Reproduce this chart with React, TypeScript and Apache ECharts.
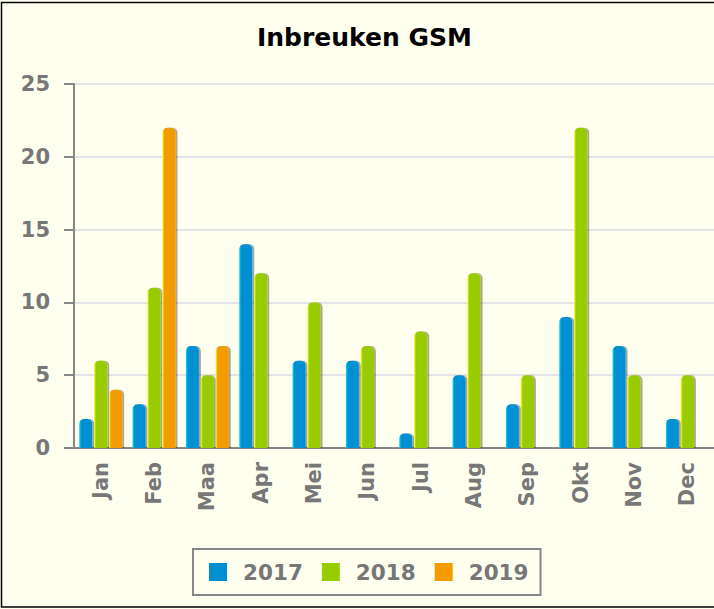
import React, { useEffect, useRef } from "react";
import * as echarts from "echarts";

const categories = ["Jan", "Feb", "Maa", "Apr", "Mei", "Jun", "Jul", "Aug", "Sep", "Okt", "Nov", "Dec"];
const values2017 = [2, 3, 7, 14, 6, 6, 1, 5, 3, 9, 7, 2];
const values2018 = [6, 11, 5, 12, 10, 7, 8, 12, 5, 22, 5, 5];
const values2019: (number | null)[] = [4, 22, 7, null, null, null, null, null, null, null, null, null];
const seriesNames = ["2017", "2018", "2019"];
const seriesColors = ["#0090d2", "#99cc00", "#f39c00"];
const highlightColors = ["#00e0ff", "#ffff00", "#ffff00"];

const FONT = "DejaVu Sans";

export default function App() {
  const ref = useRef<HTMLDivElement>(null);
  useEffect(() => {
    if (!ref.current) return;
    const chart = echarts.init(ref.current, undefined, { renderer: "svg" });
    const data = [values2017, values2018, values2019];
    const series = data.map((vals, i) => ({
      name: seriesNames[i],
      type: "bar",
      data: vals,
      barWidth: 13,
      barGap: "15%",
      itemStyle: {
        color: new echarts.graphic.LinearGradient(0, 0, 1, 0, [
          { offset: 0, color: highlightColors[i] },
          { offset: 0.15, color: seriesColors[i] },
          { offset: 1, color: seriesColors[i] },
        ]),
        borderRadius: [5, 5, 0, 0],
        shadowColor: "rgba(0,0,0,0.35)",
        shadowOffsetX: 2,
        shadowOffsetY: 0,
        shadowBlur: 1,
      },
    }));
    chart.setOption({
      animation: false,
      backgroundColor: "#fffff0",
      title: {
        text: "Inbreuken GSM",
        left: 252,
        top: 20,
        textStyle: { fontFamily: FONT, fontSize: 25, fontWeight: "bold", color: "#000" },
      },
      graphic: [
        {
          type: "rect",
          shape: { x: 1.5, y: 2.5, width: 720, height: 604.5 },
          style: { fill: "none", stroke: "#000", lineWidth: 1.5 },
          silent: true,
        },
      ],
      legend: {
        bottom: 14,
        left: 193,
        itemWidth: 18,
        itemHeight: 18,
        itemGap: 19,
        padding: [12, 12, 12, 16],
        borderColor: "#888",
        borderWidth: 2,
        borderRadius: 0,
        icon: "rect",
        data: seriesNames.map((n, i) => ({ name: n, itemStyle: { color: seriesColors[i] } })),
        textStyle: { fontFamily: FONT, fontSize: 21.5, fontWeight: "bold", color: "#777", padding: [0, 0, 0, 11] },
      },
      grid: { left: 74, right: 0, top: 84, bottom: 161, containLabel: false },
      xAxis: {
        type: "category",
        data: categories,
        axisLine: { lineStyle: { color: "#888", width: 2 } },
        axisTick: { length: 7, lineStyle: { color: "#888", width: 2 } },
        axisLabel: {
          rotate: 90,
          margin: 14,
          fontFamily: FONT,
          fontSize: 21,
          fontWeight: "bold",
          color: "#777",
        },
      },
      yAxis: {
        type: "value",
        min: 0,
        max: 25,
        interval: 5,
        axisLine: { show: true, lineStyle: { color: "#888", width: 2 } },
        axisTick: { show: true, length: 10, lineStyle: { color: "#888", width: 2 } },
        splitLine: { lineStyle: { color: "#e4e4e8", width: 2 } },
        axisLabel: {
          margin: 24,
          fontFamily: FONT,
          fontSize: 21,
          fontWeight: "bold",
          color: "#777",
        },
      },
      series,
    });
    return () => chart.dispose();
  }, []);
  return (
    <div
      ref={ref}
      style={{ position: "fixed", left: 0, top: 0, width: 714, height: 609 }}
    />
  );
}
